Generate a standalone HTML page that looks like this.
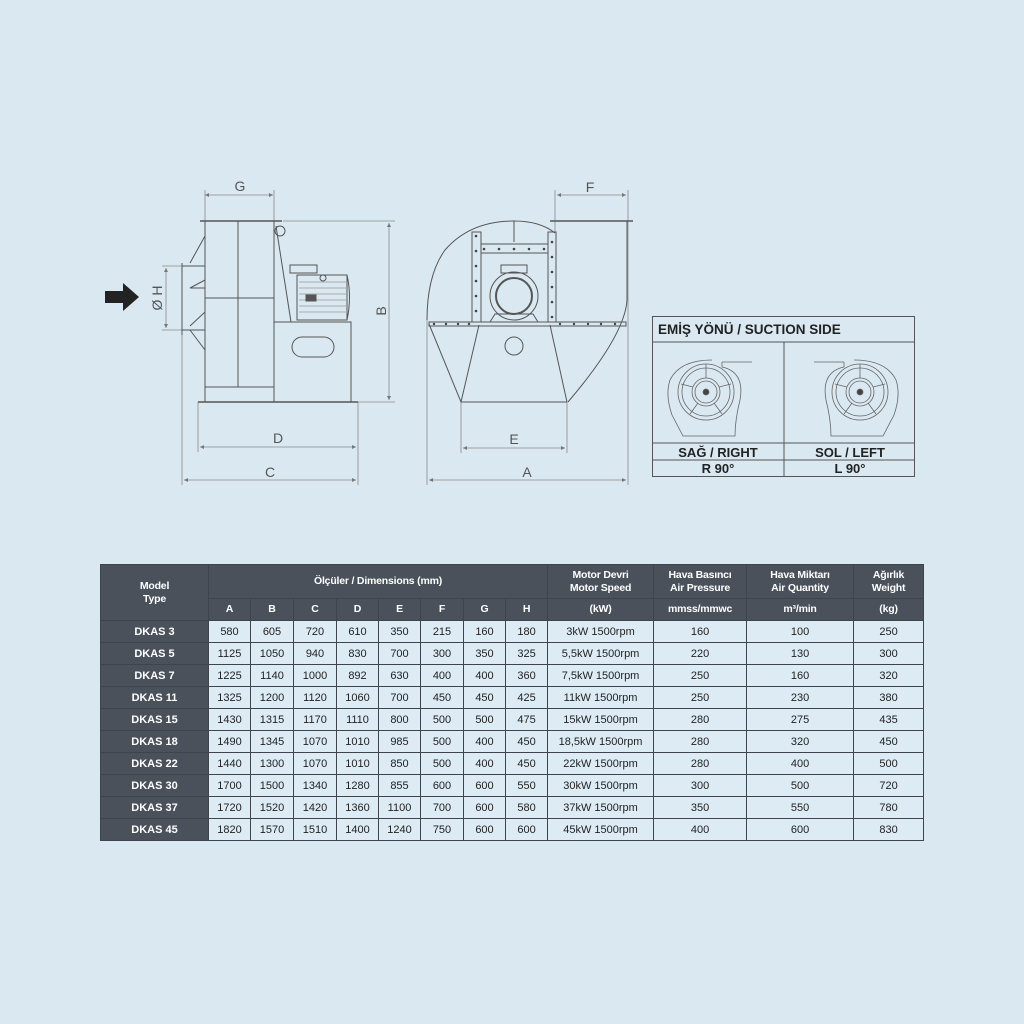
<!DOCTYPE html>
<html><head><meta charset="utf-8"><style>
html,body{margin:0;padding:0}
body{width:1024px;height:1024px;background:#dae9f1;position:relative;overflow:hidden;font-family:"Liberation Sans",sans-serif}
svg{position:absolute;left:0;top:0}
table{position:absolute;left:100px;top:564px;border-collapse:collapse;table-layout:fixed;width:823px}
td,th{border:1px solid #3e444c;padding:0;text-align:center;font-size:11px;color:#222;height:21px;background:#dcebf4;white-space:nowrap}
th{background:#4a515b;color:#fff;font-weight:bold;font-size:10.5px;letter-spacing:-0.2px;line-height:13px}
td.m{background:#4a515b;color:#fff;font-weight:bold}
</style></head><body>
<svg width="1024" height="560" viewBox="0 0 1024 560" fill="none" stroke="#666" stroke-width="1">
<defs><marker id="a" viewBox="0 0 10 10" refX="10" refY="5" markerWidth="7" markerHeight="5" orient="auto-start-reverse"><path d="M0,0L10,5L0,10z" fill="#777" stroke="none"/></marker></defs>
<g stroke="#888" stroke-width="0.8">
<!-- side view dims -->
<line x1="205" y1="195" x2="273" y2="195" marker-start="url(#a)" marker-end="url(#a)"/>
<line x1="205" y1="190" x2="205" y2="221"/><line x1="274" y1="190" x2="274" y2="221"/>
<line x1="283" y1="221" x2="395" y2="221"/><line x1="352" y1="402" x2="395" y2="402"/>
<line x1="389" y1="223" x2="389" y2="400" marker-start="url(#a)" marker-end="url(#a)"/>
<line x1="162" y1="266" x2="182" y2="266"/><line x1="162" y1="330" x2="182" y2="330"/>
<line x1="166" y1="268" x2="166" y2="328" marker-start="url(#a)" marker-end="url(#a)"/>
<line x1="198" y1="402" x2="198" y2="452"/><line x1="358" y1="402" x2="358" y2="485"/>
<line x1="182" y1="335" x2="182" y2="485"/>
<line x1="200" y1="447" x2="356" y2="447" marker-start="url(#a)" marker-end="url(#a)"/>
<line x1="184" y1="480" x2="356" y2="480" marker-start="url(#a)" marker-end="url(#a)"/>
<!-- front dims -->
<line x1="555" y1="190" x2="555" y2="232"/><line x1="628" y1="190" x2="628" y2="485"/>
<line x1="557" y1="195" x2="626" y2="195" marker-start="url(#a)" marker-end="url(#a)"/>
<line x1="461" y1="402" x2="461" y2="453"/><line x1="567" y1="402" x2="567" y2="453"/>
<line x1="463" y1="448" x2="565" y2="448" marker-start="url(#a)" marker-end="url(#a)"/>
<line x1="427" y1="320" x2="427" y2="485"/>
<line x1="429" y1="480" x2="626" y2="480" marker-start="url(#a)" marker-end="url(#a)"/>
</g>
<g font-family="Liberation Sans" font-size="14" fill="#555" stroke="none">
<text x="240" y="191" text-anchor="middle">G</text>
<text x="278" y="443" text-anchor="middle">D</text>
<text x="270" y="477" text-anchor="middle">C</text>
<text x="590" y="192" text-anchor="middle">F</text>
<text x="514" y="444" text-anchor="middle">E</text>
<text x="527" y="477" text-anchor="middle">A</text>
<text transform="translate(386,311) rotate(-90)" text-anchor="middle">B</text>
<text transform="translate(162,298) rotate(-90)" text-anchor="middle">Ø H</text>
</g>
<!-- arrow -->
<path d="M105,291H123V283L139,297L123,311V303H105Z" fill="#222" stroke="none"/>
<!-- side view -->
<g stroke="#555" fill="none">
<line x1="200" y1="221" x2="282" y2="221" stroke-width="1.5"/>
<rect x="205" y="221" width="69" height="181"/>
<line x1="238" y1="221" x2="238" y2="387"/>
<line x1="205" y1="298" x2="274" y2="298"/>
<line x1="205" y1="387" x2="274" y2="387"/>
<path d="M205,236L190,263M205,350L190,330M205,280L190,288L205,288M205,312L190,326"/>
<line x1="182" y1="263" x2="182" y2="335"/>
<line x1="182" y1="266" x2="205" y2="266"/><line x1="182" y1="330" x2="205" y2="330"/>
<circle cx="280" cy="231" r="5"/>
<path d="M276,226L291,322"/>
<rect x="290" y="265" width="27" height="8"/>
<rect x="297" y="275" width="50" height="45"/>
<path d="M347,275Q352,297 347,320"/>
<path d="M299,282H347M299,288H347M299,294H347M299,300H347M299,306H347M299,312H347" stroke="#aaa"/>
<rect x="306" y="295" width="10" height="6" fill="#555"/>
<circle cx="323" cy="278" r="3"/>
<rect x="274" y="322" width="77" height="80"/>
<rect x="292" y="337" width="42" height="20" rx="10"/>
<line x1="198" y1="402" x2="358" y2="402" stroke-width="1.5"/>
</g>
<!-- front view -->
<g stroke="#555" fill="none">
<line x1="550" y1="221" x2="633" y2="221" stroke-width="1.5"/>
<path d="M555,233Q540,221 514,221Q470,221 445,250Q427,275 427,320"/>
<path d="M627,221V300Q625,335 568,402"/>
<path d="M429,324L461,402H567"/>
<path d="M479,325L461,402M550,325L567,402"/>
<circle cx="514" cy="346" r="9"/>
<rect x="429" y="322" width="197" height="4"/>
<rect x="472" y="232" width="9" height="90"/>
<rect x="548" y="232" width="8" height="90"/>
<rect x="481" y="244" width="67" height="9"/>
<line x1="514" y1="221" x2="514" y2="242"/>
<circle cx="514" cy="296" r="24"/><circle cx="514" cy="296" r="18" stroke-width="2"/>
<rect x="501" y="265" width="26" height="8"/>
<path d="M490,322L495,314H533L538,322"/>
</g>
<g fill="#444" stroke="none">
<circle cx="476" cy="236" r="1.3"/><circle cx="476" cy="251" r="1.3"/><circle cx="476" cy="266" r="1.3"/><circle cx="476" cy="281" r="1.3"/><circle cx="476" cy="296" r="1.3"/><circle cx="476" cy="311" r="1.3"/>
<circle cx="552" cy="242" r="1.3"/><circle cx="552" cy="257" r="1.3"/><circle cx="552" cy="272" r="1.3"/><circle cx="552" cy="287" r="1.3"/><circle cx="552" cy="302" r="1.3"/><circle cx="552" cy="317" r="1.3"/>
<circle cx="484" cy="249" r="1.3"/><circle cx="499" cy="249" r="1.3"/><circle cx="514" cy="249" r="1.3"/><circle cx="529" cy="249" r="1.3"/><circle cx="544" cy="249" r="1.3"/>
<circle cx="434" cy="324" r="1.2"/><circle cx="446" cy="324" r="1.2"/><circle cx="458" cy="324" r="1.2"/><circle cx="469" cy="324" r="1.2"/>
<circle cx="560" cy="324" r="1.2"/><circle cx="574" cy="324" r="1.2"/><circle cx="588" cy="324" r="1.2"/><circle cx="601" cy="324" r="1.2"/><circle cx="615" cy="324" r="1.2"/>
</g>
<!-- suction side box -->
<g stroke="#555" fill="none">
<rect x="652.5" y="316.5" width="262" height="160"/>
<line x1="652" y1="342" x2="915" y2="342"/>
<line x1="784" y1="342" x2="784" y2="476"/>
<line x1="652" y1="443" x2="915" y2="443"/>
<line x1="652" y1="460" x2="915" y2="460"/>
<g id="fan" stroke="#666" stroke-width="0.8">
<path d="M722,362H752M722,362V367Q745,372 740,400Q735,420 735,436H683L672,415Q665,395 670,380Q680,360 712,360"/>
<circle cx="706" cy="392" r="28"/><circle cx="706" cy="392" r="24"/>
<circle cx="706" cy="392" r="14"/><circle cx="706" cy="392" r="11"/>
<circle cx="706" cy="392" r="3" fill="#444"/>
<path d="M706,378V364M719,387L731,384M714,403L722,414M698,403L690,414M693,387L681,384"/>
</g>
<use href="#fan" transform="translate(1566,0) scale(-1,1)"/>
</g>
<g font-family="Liberation Sans" font-weight="bold" fill="#222" stroke="none">
<text x="658" y="334" font-size="13.5">EMİŞ YÖNÜ / SUCTION SIDE</text>
<text x="718" y="457" font-size="13" text-anchor="middle">SAĞ / RIGHT</text>
<text x="718" y="473" font-size="13" text-anchor="middle">R 90°</text>
<text x="850" y="457" font-size="13" text-anchor="middle">SOL / LEFT</text>
<text x="850" y="473" font-size="13" text-anchor="middle">L 90°</text>
</g>
</svg>
<table>
<colgroup><col style="width:108px"><col style="width:42px"><col style="width:43px"><col style="width:43px"><col style="width:42px"><col style="width:42px"><col style="width:43px"><col style="width:42px"><col style="width:42px"><col style="width:106px"><col style="width:93px"><col style="width:107px"><col style="width:70px"></colgroup>
<tr><th rowspan="2" style="height:55px">Model<br>Type</th><th colspan="8" style="height:33px">Ölçüler / Dimensions (mm)</th><th style="height:33px">Motor Devri<br>Motor Speed</th><th>Hava Basıncı<br>Air Pressure</th><th>Hava Miktarı<br>Air Quantity</th><th>Ağırlık<br>Weight</th></tr>
<tr><th>A</th><th>B</th><th>C</th><th>D</th><th>E</th><th>F</th><th>G</th><th>H</th><th>(kW)</th><th>mmss/mmwc</th><th>m³/min</th><th>(kg)</th></tr>
<tr><td class="m">DKAS 3</td><td>580</td><td>605</td><td>720</td><td>610</td><td>350</td><td>215</td><td>160</td><td>180</td><td>3kW 1500rpm</td><td>160</td><td>100</td><td>250</td></tr>
<tr><td class="m">DKAS 5</td><td>1125</td><td>1050</td><td>940</td><td>830</td><td>700</td><td>300</td><td>350</td><td>325</td><td>5,5kW 1500rpm</td><td>220</td><td>130</td><td>300</td></tr>
<tr><td class="m">DKAS 7</td><td>1225</td><td>1140</td><td>1000</td><td>892</td><td>630</td><td>400</td><td>400</td><td>360</td><td>7,5kW 1500rpm</td><td>250</td><td>160</td><td>320</td></tr>
<tr><td class="m">DKAS 11</td><td>1325</td><td>1200</td><td>1120</td><td>1060</td><td>700</td><td>450</td><td>450</td><td>425</td><td>11kW 1500rpm</td><td>250</td><td>230</td><td>380</td></tr>
<tr><td class="m">DKAS 15</td><td>1430</td><td>1315</td><td>1170</td><td>1110</td><td>800</td><td>500</td><td>500</td><td>475</td><td>15kW 1500rpm</td><td>280</td><td>275</td><td>435</td></tr>
<tr><td class="m">DKAS 18</td><td>1490</td><td>1345</td><td>1070</td><td>1010</td><td>985</td><td>500</td><td>400</td><td>450</td><td>18,5kW 1500rpm</td><td>280</td><td>320</td><td>450</td></tr>
<tr><td class="m">DKAS 22</td><td>1440</td><td>1300</td><td>1070</td><td>1010</td><td>850</td><td>500</td><td>400</td><td>450</td><td>22kW 1500rpm</td><td>280</td><td>400</td><td>500</td></tr>
<tr><td class="m">DKAS 30</td><td>1700</td><td>1500</td><td>1340</td><td>1280</td><td>855</td><td>600</td><td>600</td><td>550</td><td>30kW 1500rpm</td><td>300</td><td>500</td><td>720</td></tr>
<tr><td class="m">DKAS 37</td><td>1720</td><td>1520</td><td>1420</td><td>1360</td><td>1100</td><td>700</td><td>600</td><td>580</td><td>37kW 1500rpm</td><td>350</td><td>550</td><td>780</td></tr>
<tr><td class="m">DKAS 45</td><td>1820</td><td>1570</td><td>1510</td><td>1400</td><td>1240</td><td>750</td><td>600</td><td>600</td><td>45kW 1500rpm</td><td>400</td><td>600</td><td>830</td></tr>
</table>
</body></html>
